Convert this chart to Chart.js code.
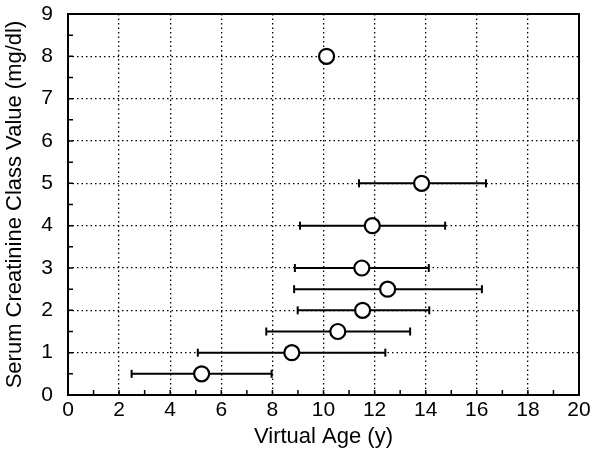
<!DOCTYPE html>
<html>
<head>
<meta charset="utf-8">
<script src="https://cdn.jsdelivr.net/npm/chart.js@4"></script>
<style>
  html, body { margin: 0; padding: 0; background: #fff; }
  #wrap { width: 593px; height: 466px; }
</style>
</head>
<body>
<div id="wrap"><canvas id="ageChart" width="593" height="466"></canvas></div>
<script>
// Serum creatinine class vs. virtual age (mean with range)
const classValues = [8, 5, 4, 3, 2.5, 2, 1.5, 1, 0.5];
const ageMean = [10.12, 13.84, 11.91, 11.5, 12.51, 11.53, 10.56, 8.76, 5.23];
const ageLow  = [null, 11.39, 9.08, 8.88, 8.85, 8.99, 7.76, 5.08, 2.49];
const ageHigh = [null, 16.36, 14.76, 14.12, 16.2, 14.14, 13.39, 12.42, 7.97];
const xTicks = [0, 2, 4, 6, 8, 10, 12, 14, 16, 18, 20];
const yTicks = [0, 1, 2, 3, 4, 5, 6, 7, 8, 9];

const FONT = "'Liberation Sans', Arial, Helvetica, sans-serif";

const datasets = [{
    type: 'scatter',
    label: 'mean',
    data: classValues.map((y, i) => ({ x: ageMean[i], y: y })),
    pointStyle: 'circle',
    pointRadius: 7.5,
    pointBorderWidth: 2.2,
    pointBorderColor: '#000',
    pointBackgroundColor: '#fff',
    order: 0
}];

// one small line dataset per error bar, caps as rotated line points
classValues.forEach((y, i) => {
    if (ageLow[i] == null) return;
    datasets.push({
        type: 'line',
        label: 'range' + i,
        data: [{ x: ageLow[i], y: y }, { x: ageHigh[i], y: y }],
        borderColor: '#000',
        borderWidth: 2,
        pointStyle: 'line',
        rotation: 90,
        pointRadius: 4,
        pointBorderWidth: 2,
        pointBorderColor: '#000',
        fill: false,
        order: 1
    });
});

// frame + inward minor ticks
const framePlugin = {
    id: 'frame',
    afterDatasetsDraw(chart) {
        const { ctx, chartArea: a, scales } = chart;
        ctx.save();
        ctx.strokeStyle = '#000';
        ctx.lineWidth = 1.5;
        ctx.beginPath();
        for (let v = 0; v <= 20; v += 1) {
            const px = scales.x.getPixelForValue(v);
            ctx.moveTo(px, a.bottom);
            ctx.lineTo(px, a.bottom - 5);
        }
        for (let v = 0; v <= 9; v += 0.5) {
            const py = scales.y.getPixelForValue(v);
            ctx.moveTo(a.left, py);
            ctx.lineTo(a.left + 5, py);
        }
        ctx.stroke();
        ctx.lineWidth = 2;
        ctx.strokeRect(a.left, a.top, a.right - a.left, a.bottom - a.top);
        ctx.restore();
    }
};

new Chart(document.getElementById('ageChart').getContext('2d'), {
    data: { datasets: datasets },
    options: {
        responsive: false,
        animation: false,
        events: [],
        layout: { padding: { top: 14, right: 14, left: 0, bottom: 0 } },
        plugins: { legend: { display: false }, tooltip: { enabled: false } },
        scales: {
            x: {
                type: 'linear',
                min: 0, max: 20,
                afterBuildTicks: s => { s.ticks = xTicks.map(v => ({ value: v })); },
                afterFit: s => { s.height = 71; s.paddingLeft = 0; s.paddingRight = 0; },
                ticks: { color: '#000', font: { family: FONT, size: 21 }, padding: 3, maxRotation: 0 },
                grid: { color: '#000', lineWidth: 1.3, drawTicks: false, tickLength: 0 },
                border: { display: false, dash: [1.5, 3] },
                title: { display: true, text: 'Virtual Age (y)', color: '#000',
                         font: { family: FONT, size: 22 }, padding: { top: 0, bottom: 16 } }
            },
            y: {
                type: 'linear',
                min: 0, max: 9,
                afterBuildTicks: s => { s.ticks = yTicks.map(v => ({ value: v })); },
                afterFit: s => { s.width = 68; s.paddingTop = 0; s.paddingBottom = 0; },
                ticks: { color: '#000', font: { family: FONT, size: 21 }, padding: 15 },
                grid: { color: '#000', lineWidth: 1.3, drawTicks: false, tickLength: 0 },
                border: { display: false, dash: [1.5, 3] },
                title: { display: true, text: 'Serum Creatinine Class Value (mg/dl)', color: '#000',
                         font: { family: FONT, size: 22 }, padding: { top: 2, bottom: 2 } }
            }
        }
    },
    plugins: [framePlugin]
});
</script>
</body>
</html>
